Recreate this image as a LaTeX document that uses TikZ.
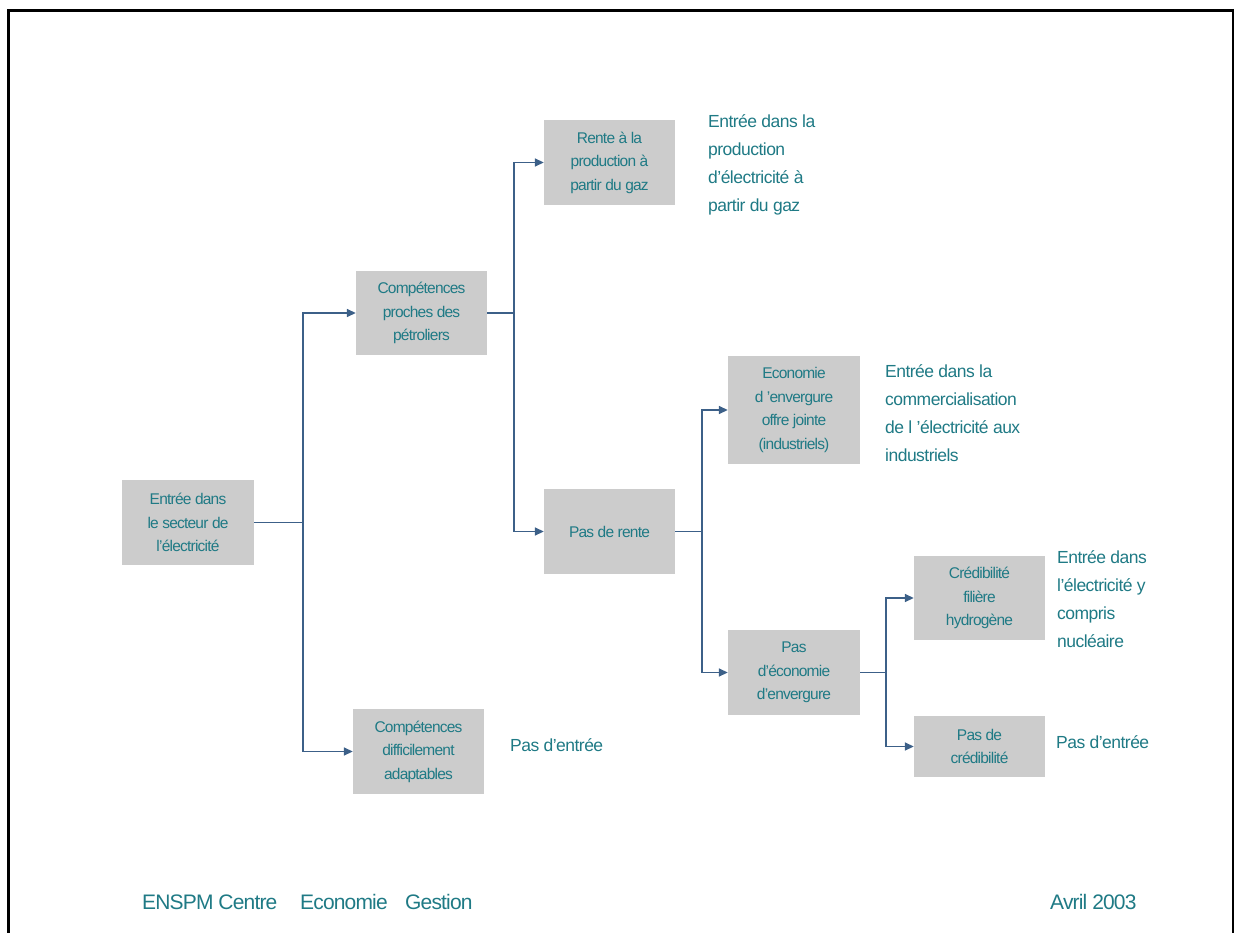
\documentclass[tikz,border=0pt]{standalone}
\usepackage{fontspec}
\setmainfont{Liberation Sans}
\newfontfamily\boxfont{Liberation Sans}[LetterSpace=-5]
\newfontfamily\outfont{Liberation Sans}[LetterSpace=-3]
\newfontfamily\footfont{Liberation Sans}[LetterSpace=-4]
\usetikzlibrary{arrows.meta}
\definecolor{tealtext}{HTML}{1F7A85}
\definecolor{lineblue}{HTML}{3C6088}
\definecolor{boxgray}{HTML}{CCCCCC}
\tikzset{
  box/.style={fill=boxgray, draw=none, inner sep=0pt, align=center, text=tealtext,
    font=\boxfont\fontsize{15.5}{23.5}\selectfont},
  outcome/.style={inner sep=0pt, align=left, text=tealtext,
    font=\outfont\fontsize{17.5}{28}\selectfont},
  foot/.style={inner sep=0pt, anchor=base west, text=tealtext,
    font=\footfont\fontsize{21}{25}\selectfont},
  conn/.style={draw=lineblue, line width=1.6pt},
  arr/.style={conn, -{Triangle[length=9pt,width=8pt]}},
}
\begin{document}
\begin{tikzpicture}[x=1pt,y=-1pt]
\useasboundingbox (0,0) rectangle (1236,933);
% frame
\draw[line width=3pt] (8.5,940) -- (8.5,10.5) -- (1233,10.5);
\draw[line width=2.5pt] (1233,9) -- (1233,940);

% boxes
\node[box, minimum width=132pt, minimum height=85pt] (b1) at (188,522.5) {Entrée dans\\le secteur de\\l’électricité};
\node[box, minimum width=131pt, minimum height=84pt] (b2) at (421.5,313) {Compétences\\proches des\\pétroliers};
\node[box, minimum width=131pt, minimum height=85pt] (b3) at (418.5,751.5) {Compétences\\difficilement\\adaptables};
\node[box, minimum width=131pt, minimum height=85pt] (b4) at (609.5,162.5) {Rente à la\\production à\\partir du gaz};
\node[box, minimum width=131pt, minimum height=85pt] (b5) at (609.5,531.5) {Pas de rente};
\node[box, minimum width=132pt, minimum height=108pt] (b6) at (794,410) {Economie\\d ’envergure\\offre jointe\\(industriels)};
\node[box, minimum width=132pt, minimum height=85pt] (b7) at (794,672.5) {Pas\\d’économie\\d’envergure};
\node[box, minimum width=131pt, minimum height=84pt] (b8) at (979.5,598) {Crédibilité\\filière\\hydrogène};
\node[box, minimum width=131pt, minimum height=61pt] (b9) at (979.5,746.5) {Pas de\\crédibilité};

% outcomes
\node[outcome, anchor=north west] (o1) at (708,114) {Entrée dans la\\production\\d’électricité à\\partir du gaz};
\node[outcome, anchor=north west] (o2) at (885,364) {Entrée dans la\\commercialisation\\de l ’électricité aux\\industriels};
\node[outcome, anchor=north west] (o3) at (1057,550) {Entrée dans\\l’électricité y\\compris\\nucléaire};
\node[outcome, anchor=base west] (o4) at (510,751.5) {Pas d’entrée};
\node[outcome, anchor=base west] (o5) at (1056,748) {Pas d’entrée};

% connectors
\coordinate (j1) at ([xshift=49pt]b1.east);
\coordinate (j2) at ([xshift=27pt]b2.east);
\coordinate (j3) at ([xshift=27pt]b5.east);
\coordinate (j4) at ([xshift=26pt]b7.east);
\draw[conn] (b1.east) -- (j1);
\draw[arr] (j1) |- (b2.west);
\draw[arr] (j1) |- (b3.west);
\draw[conn] (b2.east) -- (j2);
\draw[arr] (j2) |- (b4.west);
\draw[arr] (j2) |- (b5.west);
\draw[conn] (b5.east) -- (j3);
\draw[arr] (j3) |- (b6.west);
\draw[arr] (j3) |- (b7.west);
\draw[conn] (b7.east) -- (j4);
\draw[arr] (j4) |- (b8.west);
\draw[arr] (j4) |- (b9.west);

% footer
\node[foot] (f1) at (142,909) {ENSPM Centre};
\node[foot] (f2) at (300,909) {Economie};
\node[foot] (f3) at (405,909) {Gestion};
\node[foot] (f4) at (1050,909) {Avril 2003};
\end{tikzpicture}
\end{document}
